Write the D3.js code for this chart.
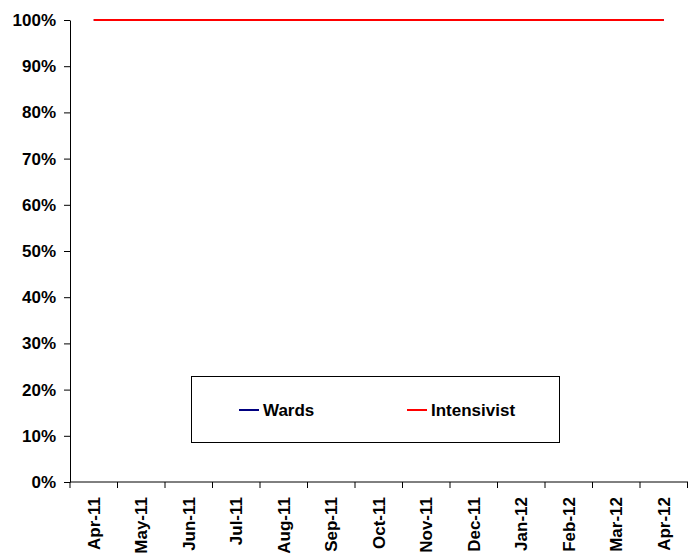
<!DOCTYPE html>
<html>
<head>
<meta charset="utf-8">
<script src="https://cdn.jsdelivr.net/npm/d3@7"></script>
<style>
  body { margin: 0; background: #fff; }
  text { font-family: "Liberation Sans", Arial, sans-serif; font-weight: bold; fill: #000; }
</style>
</head>
<body>
<svg id="chart" width="688" height="557"></svg>
<script>
// chart data
var months = ["Apr-11","May-11","Jun-11","Jul-11","Aug-11","Sep-11","Oct-11","Nov-11","Dec-11","Jan-12","Feb-12","Mar-12","Apr-12"];
var wards = [1,1,1,1,1,1,1,1,1,1,1,1,1];
var intensivist = [1,1,1,1,1,1,1,1,1,1,1,1,1];
var yTicks = [0,0.1,0.2,0.3,0.4,0.5,0.6,0.7,0.8,0.9,1];

var series = [
    {name: "Wards", values: wards, color: "#000080"},
    {name: "Intensivist", values: intensivist, color: "#FF0000"}
];

var svg = d3.select("#chart");

var PLOT_LEFT = 70, PLOT_RIGHT = 688, PLOT_TOP = 20, PLOT_BOTTOM = 482;

var x = d3.scaleBand()
    .domain(months)
    .range([PLOT_LEFT, PLOT_RIGHT - 0.5]);

var y = d3.scaleLinear()
    .domain([0, 1])
    .range([PLOT_BOTTOM, PLOT_TOP]);

// y axis
var yAxis = svg.append("g")
    .attr("transform", "translate(" + PLOT_LEFT + ",0)")
    .call(d3.axisLeft(y).tickValues(yTicks).tickFormat(d3.format(".0%")).tickSize(6).tickSizeOuter(0));
yAxis.select(".domain").attr("stroke", "#000");
yAxis.selectAll(".tick line").attr("stroke", "#000");
yAxis.selectAll("text")
    .attr("x", -14)
    .style("font-size", "17px")
    .style("font-family", "'Liberation Sans', Arial, sans-serif")
    .style("font-weight", "bold");

// x axis: ticks at band edges
var xAxis = svg.append("g")
    .attr("transform", "translate(0," + PLOT_BOTTOM + ")");
xAxis.append("line")
    .attr("x1", PLOT_LEFT).attr("x2", PLOT_RIGHT)
    .attr("stroke", "#000");
var edges = months.map(function(m){ return x(m); }).concat([x(months[months.length-1]) + x.bandwidth()]);
xAxis.selectAll("line.edge")
    .data(edges)
    .enter()
    .append("line")
    .attr("class", "edge")
    .attr("x1", function(d){ return d; })
    .attr("x2", function(d){ return d; })
    .attr("y1", 0).attr("y2", 6)
    .attr("stroke", "#000");
xAxis.selectAll("text.month")
    .data(months)
    .enter()
    .append("text")
    .attr("class", "month")
    .attr("transform", function(d){
        return "translate(" + (x(d) + x.bandwidth()/2 + 6) + ",15) rotate(-90)";
    })
    .attr("text-anchor", "end")
    .style("font-size", "17px")
    .text(function(d){ return d; });

// lines
var line = d3.line()
    .x(function(d, i){ return x(months[i]) + x.bandwidth()/2; })
    .y(function(d){ return y(d); });

svg.selectAll("path.series")
    .data(series)
    .enter()
    .append("path")
    .attr("class", "series")
    .attr("d", function(d){ return line(d.values); })
    .attr("fill", "none")
    .attr("stroke", function(d){ return d.color; })
    .attr("stroke-width", 2);

// legend
var legend = svg.append("g");
legend.append("rect")
    .attr("x", 191.5).attr("y", 376.5)
    .attr("width", 368).attr("height", 66)
    .attr("fill", "#fff")
    .attr("stroke", "#000");
var legendX = [239, 407];
var items = legend.selectAll("g.item")
    .data(series)
    .enter()
    .append("g")
    .attr("class", "item")
    .attr("transform", function(d, i){ return "translate(" + legendX[i] + ",410)"; });
items.append("line")
    .attr("x1", 0).attr("x2", 20)
    .attr("stroke", function(d){ return d.color; })
    .attr("stroke-width", 2);
items.append("text")
    .attr("x", 24)
    .attr("dy", "0.35em")
    .style("font-size", "17px")
    .text(function(d){ return d.name; });
</script>
</body>
</html>
